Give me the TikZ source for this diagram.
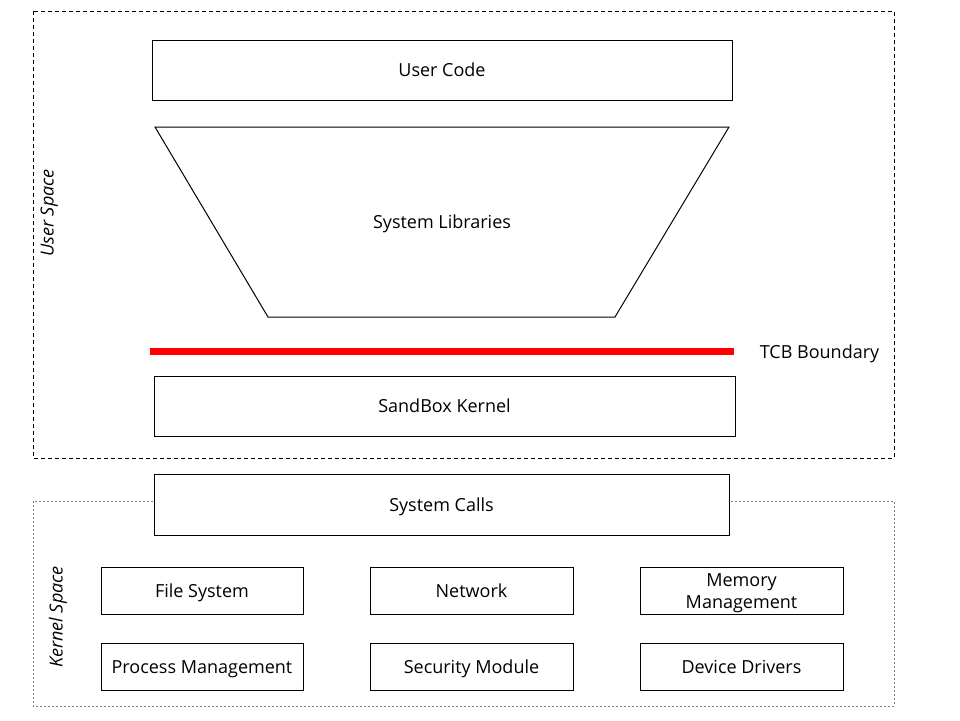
\documentclass[tikz,border=0pt]{standalone}
\usepackage{fontspec}
\setmainfont{Open Sans}
\usepackage{tikz}

\begin{document}
\begin{tikzpicture}[x=1pt, y=-1pt, line width=1pt, every node/.style = {font=\fontsize{18}{22}\selectfont, text height=13pt, text depth=0pt}, block/.style = {draw, fill=white, inner sep=0pt, align=center}, area/.style = {font=\fontsize{18}{22}\selectfont\itshape, rotate=90}]
        \useasboundingbox (0,0) rectangle (960,720);
        \draw[dash pattern=on 4pt off 3pt] (33,11) rectangle (894,458);
        \draw[dash pattern=on 2pt off 2pt, gray] (33,501) rectangle (894,706);
        \node[area] (user) at (47,213) {User Space};
        \node[area] (kernel) at (56,617) {Kernel Space};
        \node[block, minimum width=580pt, minimum height=60pt] (code) at (442,70) {User Code};
        \draw (155,127) -- (729,127) -- (615,317) -- (268,317) -- cycle;
        \node (libs) at (442,222) {System Libraries};
        \coordinate (tcbl) at (150,351);
        \coordinate (tcbr) at (734,351);
        \draw[red, line width=7pt] (tcbl) -- (tcbr);
        \node[anchor=west] (tcb) at (756,352) {TCB Boundary};
        \node[block, minimum width=581pt, minimum height=60pt] (sandbox) at (444.5,406) {SandBox Kernel};
        \node[block, minimum width=575pt, minimum height=61pt] (calls) at (441.5,504.5) {System Calls};
        \node[block, minimum width=202pt, minimum height=47pt] (fs) at (202,591) {File System};
        \node[block, minimum width=203pt, minimum height=47pt] (net) at (471.5,590.5) {Network};
        \node[block, minimum width=203pt, minimum height=47pt, text height=35pt] (mem) at (741.5,590.5) {Memory\\Management};
        \node[block, minimum width=202pt, minimum height=47pt] (proc) at (202,666.5) {Process Management};
        \node[block, minimum width=203pt, minimum height=47pt] (sec) at (471.5,666.5) {Security Module};
        \node[block, minimum width=203pt, minimum height=47pt] (dev) at (741.5,666.5) {Device Drivers};
    \end{tikzpicture}
\end{document}
